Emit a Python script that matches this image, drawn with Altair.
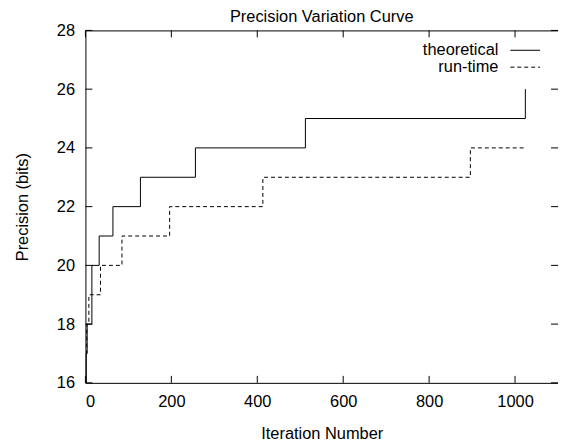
import altair as alt
import pandas as pd

# Data
theo_iter = [1, 2, 4, 15, 32, 64, 128, 256, 512, 1024]
theo_prec = [16, 17, 18, 20, 21, 22, 23, 24, 25, 26]

run_iter = [1, 3, 8, 35, 85, 196, 413, 896, 1024]
run_prec = [17, 18, 19, 20, 21, 22, 23, 24, 24]

x_ticks = [0, 200, 400, 600, 800, 1000]
y_ticks = [16, 18, 20, 22, 24, 26, 28]

legend_labels = ["theoretical", "run-time"]
chart_title = "Precision Variation Curve"

W, H = 476, 355
FONT = "Liberation Sans"
FS = 16.5

theo_df = pd.DataFrame({"iter": theo_iter, "prec": theo_prec})
run_df = pd.DataFrame({"iter": run_iter, "prec": run_prec})
xt_df = pd.DataFrame({"iter": x_ticks})
yt_df = pd.DataFrame({"prec": y_ticks})

xscale = alt.Scale(domain=[0, 1100], nice=False, zero=False)
yscale = alt.Scale(domain=[16, 28], nice=False, zero=False)

x_axis = alt.Axis(values=x_ticks, format="d", grid=False, domain=False, ticks=False, tickSize=0,
                  labelPadding=11, labelFontSize=FS, labelFont=FONT, labelColor="black",
                  title="Iteration Number", titleFont=FONT, titleFontSize=FS,
                  titleFontWeight="normal", titleColor="black", titlePadding=16)
y_axis = alt.Axis(values=y_ticks, format="d", grid=False, domain=False, ticks=False, tickSize=0,
                  labelPadding=11, labelFontSize=FS, labelFont=FONT, labelColor="black",
                  title="Precision (bits)", titleFont=FONT, titleFontSize=FS,
                  titleFontWeight="normal", titleColor="black", titlePadding=26)

X = alt.X("iter:Q", scale=xscale, axis=x_axis)
Y = alt.Y("prec:Q", scale=yscale, axis=y_axis)

theo = alt.Chart(theo_df).mark_line(interpolate="step-after", color="black", strokeWidth=1).encode(
    x=X, y=Y)
run = alt.Chart(run_df).mark_line(interpolate="step-after", color="black", strokeWidth=1,
                                  strokeDash=[4, 3]).encode(x=X, y=Y)

tick_bottom = alt.Chart(xt_df).mark_rule(color="black", strokeWidth=1).encode(
    x=X, y=alt.value(H), y2=alt.value(H - 7))
tick_top = alt.Chart(xt_df).mark_rule(color="black", strokeWidth=1).encode(
    x=X, y=alt.value(0), y2=alt.value(7))
tick_left = alt.Chart(yt_df).mark_rule(color="black", strokeWidth=1).encode(
    y=Y, x=alt.value(0), x2=alt.value(7))
tick_right = alt.Chart(yt_df).mark_rule(color="black", strokeWidth=1).encode(
    y=Y, x=alt.value(W), x2=alt.value(W - 7))

leg_y = [20, 37]
leg_t1 = alt.Chart(pd.DataFrame({"t": [legend_labels[0]]})).mark_text(
    align="right", baseline="middle", font=FONT, fontSize=FS, color="black").encode(
    text="t:N", x=alt.value(416), y=alt.value(leg_y[0]))
leg_t2 = alt.Chart(pd.DataFrame({"t": [legend_labels[1]]})).mark_text(
    align="right", baseline="middle", font=FONT, fontSize=FS, color="black").encode(
    text="t:N", x=alt.value(416), y=alt.value(leg_y[1]))
leg_l1 = alt.Chart(pd.DataFrame({"t": [legend_labels[0]]})).mark_rule(
    color="black", strokeWidth=1).encode(x=alt.value(428), x2=alt.value(458), y=alt.value(leg_y[0]))
leg_l2 = alt.Chart(pd.DataFrame({"t": [legend_labels[1]]})).mark_rule(
    color="black", strokeWidth=1, strokeDash=[4, 3]).encode(x=alt.value(428), x2=alt.value(458), y=alt.value(leg_y[1]))

title_mark = alt.Chart(pd.DataFrame({"t": [chart_title]})).mark_text(
    align="center", baseline="alphabetic", font=FONT, fontSize=FS, color="black").encode(
    text="t:N", x=alt.value(W / 2), y=alt.value(-8))

chart = alt.layer(
    theo, run, tick_bottom, tick_top, tick_left, tick_right,
    leg_t1, leg_t2, leg_l1, leg_l2, title_mark
).properties(
    width=W, height=H,
    background="white",
    autosize=alt.AutoSizeParams(type="none"),
    padding={"left": 78, "top": 21, "right": 0, "bottom": 59},
).configure_view(stroke="black", strokeWidth=1)

chart.save("out.html", embed_options={"renderer": "svg", "actions": False})
